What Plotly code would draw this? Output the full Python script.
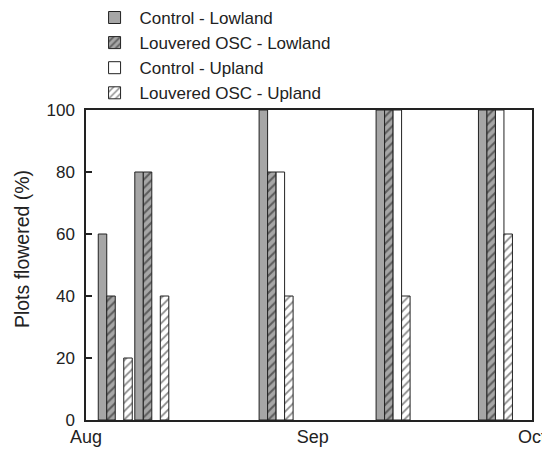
import plotly.graph_objects as go

dates = ["2000-08-05", "2000-08-10", "2000-08-27", "2000-09-12", "2000-09-26"]
control_lowland = [60, 80, 100, 100, 100]
louvered_lowland = [40, 80, 80, 100, 100]
control_upland = [None, None, 80, 100, 100]
louvered_upland = [20, 40, 40, 40, 60]
tick_dates = ["2000-08-01", "2000-09-01", "2000-10-01"]
tick_labels = ["Aug", "Sep", "Oct"]

FONT = "Liberation Sans, Arial, sans-serif"
LINE = "#222222"

fig = go.Figure()
fig.add_trace(go.Bar(
    x=dates, y=control_lowland, name="Control - Lowland", legendgroup="a",
    marker=dict(color="#a6a6a6", line=dict(color=LINE, width=1)),
))
fig.add_trace(go.Bar(
    x=dates, y=louvered_lowland, name="Louvered OSC - Lowland", legendgroup="b",
    marker=dict(color="#a6a6a6", line=dict(color=LINE, width=1),
                pattern=dict(shape="/", fgcolor="#111111", bgcolor="#a6a6a6",
                             size=6, solidity=0.35)),
))
fig.add_trace(go.Bar(
    x=dates, y=control_upland, name="Control - Upland", legendgroup="c",
    marker=dict(color="#ffffff", line=dict(color=LINE, width=1)),
))
fig.add_trace(go.Bar(
    x=dates, y=louvered_upland, name="Louvered OSC - Upland", legendgroup="d",
    marker=dict(color="#ffffff", line=dict(color=LINE, width=1),
                pattern=dict(shape="/", fgcolor="#111111", bgcolor="#ffffff",
                             size=6, solidity=0.3)),
))

fig.update_layout(
    width=542, height=453,
    margin=dict(l=86, r=10, t=110, b=33, autoexpand=False),
    paper_bgcolor="white", plot_bgcolor="white",
    barmode="group", bargap=0.07, bargroupgap=0,
    font=dict(family=FONT, size=18, color="#222222"),
    showlegend=True,
    legend=dict(
        x=0.008, y=1.355, xanchor="left", yanchor="top",
        font=dict(family=FONT, size=17, color="#222222"),
        bgcolor="rgba(0,0,0,0)", itemwidth=40, tracegroupgap=0,
    ),
    xaxis=dict(
        type="date", range=["2000-08-01", "2000-10-01"],
        tickvals=tick_dates, ticktext=tick_labels,
        showgrid=False, zeroline=False, automargin=False,
        showline=True, linecolor=LINE, linewidth=1.5, mirror=True,
        ticks="", tickfont=dict(size=18), ticklabeloverflow="allow",
    ),
    yaxis=dict(
        range=[0, 100], tickvals=[0, 20, 40, 60, 80, 100],
        showgrid=False, zeroline=False, automargin=False,
        showline=True, linecolor=LINE, linewidth=1.5, mirror=True,
        ticks="inside", ticklen=6, tickcolor=LINE, tickwidth=1.5,
        tickfont=dict(size=17), ticklabelstandoff=6,
    ),
    annotations=[dict(
        text="Plots flowered (%)", xref="paper", yref="paper",
        x=-0.143, y=0.552, xanchor="center", yanchor="middle",
        textangle=-90, showarrow=False,
        font=dict(family=FONT, size=19.5, color="#222222"),
    )],
)

fig.write_html(
    "out.html",
    config={"responsive": False, "displayModeBar": False},
    post_script="document.body.style.margin='0';document.body.style.overflow='hidden';",
)
